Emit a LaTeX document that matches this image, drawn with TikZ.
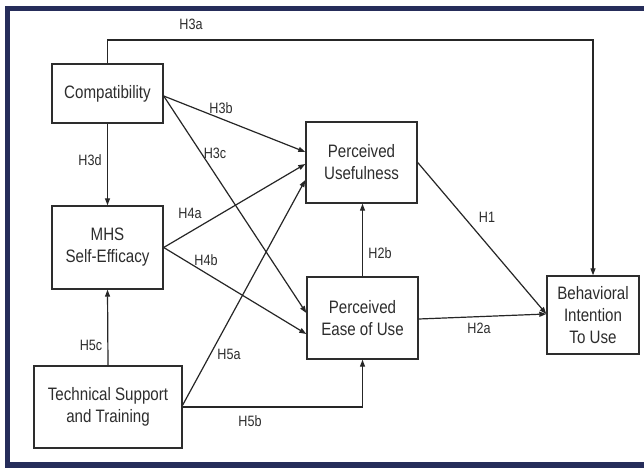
\documentclass[tikz,border=0pt]{standalone}
\usepackage{fontspec}
\setmainfont{Liberation Sans}[FakeStretch=0.84]
\usetikzlibrary{arrows.meta}
\definecolor{framenavy}{RGB}{38,45,90}
\definecolor{ink}{RGB}{45,45,45}
\begin{document}
\begin{tikzpicture}[x=1pt,y=-1pt,
  construct/.style={draw=ink, line width=1.4pt, fill=white, align=center,
    inner sep=0pt, text=ink, font=\fontsize{18}{22}\selectfont},
  link/.style={draw=black!85, line width=1.2pt,
    -{Triangle[length=7pt,width=5pt]}},
  hyp/.style={text=ink, inner sep=0pt, font=\fontsize{15}{18}\selectfont}]
\useasboundingbox (0,0) rectangle (644,468);

% frame
\fill[framenavy] (5,6) rectangle (644,468);
\fill[white] (10,11) rectangle (644,462);

% constructs
\node[construct, minimum width=111pt, minimum height=59pt] (comp) at (107.5,93.5) {Compatibility};
\node[construct, minimum width=111pt, minimum height=83pt] (mhs) at (107.5,247.5) {MHS\\Self-Efficacy};
\node[construct, minimum width=148pt, minimum height=82pt] (tech) at (108,407) {Technical Support\\and Training};
\node[construct, minimum width=111pt, minimum height=81pt] (pu) at (361.5,162.5) {Perceived\\Usefulness};
\node[construct, minimum width=111pt, minimum height=82pt] (peou) at (362.5,318) {Perceived\\Ease of Use};
\node[construct, minimum width=92pt, minimum height=78pt] (bi) at (593,315) {Behavioral\\Intention\\To Use};

% bend points of the routed paths
\coordinate (h3aL) at (107.5,40);
\coordinate (h3aR) at (593,40);
\coordinate (h5bC) at (362.5,407);

% paths
\draw[link] (comp.north) -- (h3aL) -- (h3aR) -- (bi.north);
\draw[link] (comp.south) -- (mhs.north);
\draw[link] (tech.north) -- (mhs.south);
\draw[link] ([yshift=-2.5pt]comp.east) -- ([yshift=10.5pt]pu.west);
\draw[link] ([yshift=-2.5pt]comp.east) -- ([yshift=5pt]peou.west);
\draw[link] (mhs.east) -- ([yshift=-1.5pt]pu.west);
\draw[link] (mhs.east) -- ([yshift=-16pt]peou.west);
\draw[link] ([yshift=2pt]tech.east) -- ([yshift=-17.5pt]pu.west);
\draw[link] (tech.east) -- (h5bC) -- (peou.south);
\draw[link] (peou.north) -- (peou.north |- pu.south);
\draw[link] (pu.east) -- ([yshift=1pt]bi.west);
\draw[link] ([yshift=-1pt]peou.east) -- ([yshift=1pt]bi.west);

% hypothesis labels
\node[hyp] (lh3a) at (191,24) {H3a};
\node[hyp] (lh3b) at (221,108) {H3b};
\node[hyp] (lh3c) at (215,153) {H3c};
\node[hyp] (lh3d) at (90,160) {H3d};
\node[hyp] (lh4a) at (190,213) {H4a};
\node[hyp] (lh4b) at (206,260) {H4b};
\node[hyp] (lh5a) at (229,354) {H5a};
\node[hyp] (lh5b) at (250,421) {H5b};
\node[hyp] (lh5c) at (91,345) {H5c};
\node[hyp] (lh1) at (487,217) {H1};
\node[hyp] (lh2b) at (380,253) {H2b};
\node[hyp] (lh2a) at (479,328) {H2a};
\end{tikzpicture}
\end{document}
